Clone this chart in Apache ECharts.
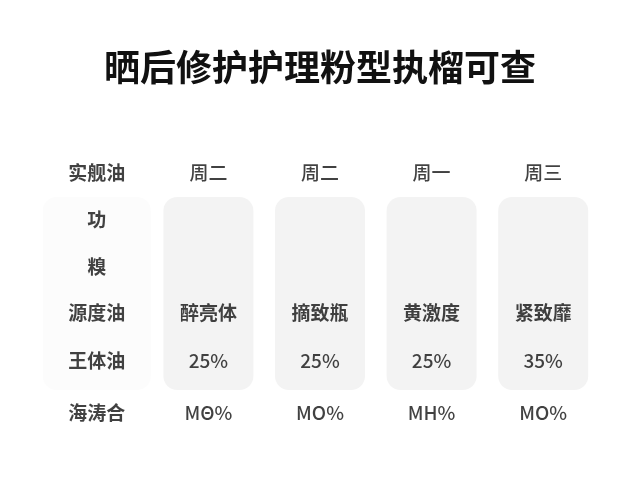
<!DOCTYPE html>
<html><head><meta charset="utf-8">
<script src="https://cdn.jsdelivr.net/npm/echarts@6/dist/echarts.min.js"></script>
<style>html,body{margin:0;background:#fff}#c{width:640px;height:480px}</style>
</head><body><div id="c"></div>
<script>
const title = '晒后修护护理粉型执榴可查';
const columns = ['label', 'c1', 'c2', 'c3', 'c4'];
const rowLabels = ['实舰油', '功', '糗', '源度油', '王体油', '海涛合'];
const days = ['周二', '周二', '周一', '周三'];
const products = ['醉亮体', '摘致瓶', '黄激度', '紧致靡'];
const shares = [25, 25, 25, 35];
const codes = ['MΘ%', 'MO%', 'MH%', 'MO%'];
// row positions on the (inverted) y axis
const rowY = [23, 70, 117, 163, 211, 263];
const cardTop = 47, cardBottom = 240;

const font = '"Noto Sans CJK SC", "Noto Sans", sans-serif';
const texts = [];
rowLabels.forEach((t, r) => texts.push({value: [0, rowY[r]], name: t, bold: true}));
days.forEach((t, i) => texts.push({value: [i + 1, rowY[0]], name: t}));
products.forEach((t, i) => texts.push({value: [i + 1, rowY[3]], name: t, bold: true}));
shares.forEach((v, i) => texts.push({value: [i + 1, rowY[4]], name: v + '%'}));
codes.forEach((t, i) => texts.push({value: [i + 1, rowY[5]], name: t}));

const chart = echarts.init(document.getElementById('c'));
chart.setOption({
  backgroundColor: '#ffffff',
  animation: false,
  title: {text: title, left: 'center', top: 44,
    textStyle: {fontFamily: font, fontSize: 36, fontWeight: 'bold', color: '#111'}},
  grid: {left: 41, right: 41, top: 150, bottom: 40},
  xAxis: {type: 'category', data: columns, show: false},
  yAxis: {type: 'value', min: 0, max: 290, inverse: true, show: false},
  series: [
    {
      type: 'custom',
      data: [0, 1, 2, 3, 4],
      renderItem: (params, api) => {
        const idx = api.value(0);
        const top = api.coord([idx, cardTop]);
        const bot = api.coord([idx, cardBottom]);
        const w = idx === 0 ? 108 : 90;
        return {type: 'rect',
          shape: {x: top[0] - w / 2, y: top[1], width: w, height: bot[1] - top[1], r: 14},
          style: {fill: idx === 0 ? '#fcfcfc' : '#f3f3f3'}};
      },
      z: 1
    },
    {
      type: 'scatter',
      symbolSize: 0,
      data: texts.map(d => ({value: d.value, name: d.name,
        label: {fontWeight: d.bold ? 'bold' : 500}})),
      label: {show: true, position: 'inside', formatter: p => p.name,
        fontFamily: font, fontSize: 19, color: '#111'},
      z: 3
    }
  ]
});
</script></body></html>
